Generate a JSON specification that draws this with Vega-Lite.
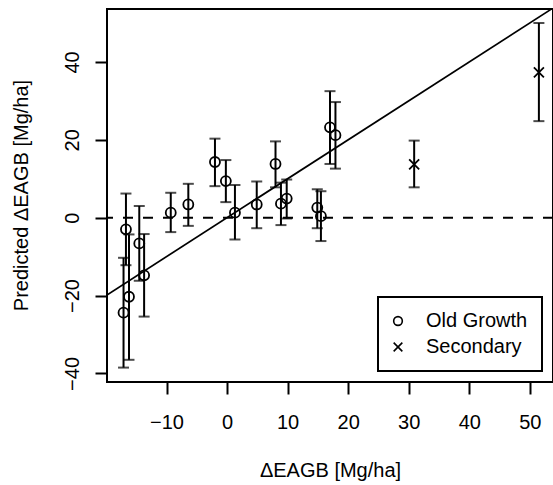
{
  "$schema": "https://vega.github.io/schema/vega-lite/v6.json",
  "autosize": "none",
  "padding": {"left": 107, "top": 9, "right": 0, "bottom": 103},
  "width": 446,
  "height": 373,
  "background": "white",
  "datasets": {
    "pts": [
      {"obs": -16.7, "pred": -3.0, "lo": -12.2, "hi": 6.2, "type": "Old Growth"},
      {"obs": -16.2, "pred": -20.3, "lo": -36.5, "hi": -4.3, "type": "Old Growth"},
      {"obs": -17.1, "pred": -24.4, "lo": -38.5, "hi": -10.3, "type": "Old Growth"},
      {"obs": -14.5, "pred": -6.6, "lo": -16.2, "hi": 3.0, "type": "Old Growth"},
      {"obs": -13.7, "pred": -14.8, "lo": -25.4, "hi": -4.2, "type": "Old Growth"},
      {"obs": -9.3, "pred": 1.3, "lo": -3.7, "hi": 6.4, "type": "Old Growth"},
      {"obs": -6.4, "pred": 3.4, "lo": -2.1, "hi": 8.7, "type": "Old Growth"},
      {"obs": -2.0, "pred": 14.3, "lo": 8.1, "hi": 20.3, "type": "Old Growth"},
      {"obs": -0.2, "pred": 9.4, "lo": 4.0, "hi": 14.8, "type": "Old Growth"},
      {"obs": 1.3, "pred": 1.3, "lo": -5.6, "hi": 8.4, "type": "Old Growth"},
      {"obs": 4.9, "pred": 3.4, "lo": -2.7, "hi": 9.3, "type": "Old Growth"},
      {"obs": 8.0, "pred": 13.8, "lo": 7.8, "hi": 19.6, "type": "Old Growth"},
      {"obs": 8.9, "pred": 3.6, "lo": -1.9, "hi": 9.0, "type": "Old Growth"},
      {"obs": 9.85, "pred": 4.9, "lo": -0.2, "hi": 9.8, "type": "Old Growth"},
      {"obs": 14.9, "pred": 2.6, "lo": -2.7, "hi": 7.3, "type": "Old Growth"},
      {"obs": 15.5, "pred": 0.4, "lo": -6.0, "hi": 6.8, "type": "Old Growth"},
      {"obs": 17.0, "pred": 23.2, "lo": 13.8, "hi": 32.5, "type": "Old Growth"},
      {"obs": 17.9, "pred": 21.2, "lo": 12.6, "hi": 29.7, "type": "Old Growth"},
      {"obs": 30.9, "pred": 13.7, "lo": 7.8, "hi": 19.8, "type": "Secondary"},
      {"obs": 51.5, "pred": 37.3, "lo": 24.8, "hi": 50.0, "type": "Secondary"}
    ],
    "oneone": [
      {"obs": -30, "pred": -30},
      {"obs": 70, "pred": 70}
    ],
    "zero": [
      {"pred": 0}
    ]
  },
  "config": {
    "font": "Liberation Sans",
    "view": {"stroke": "black", "strokeWidth": 2},
    "axis": {
      "domain": false,
      "grid": false,
      "tickColor": "black",
      "tickWidth": 2,
      "tickSize": 12,
      "labelFont": "Liberation Sans",
      "labelFontSize": 20,
      "labelColor": "black",
      "titleFont": "Liberation Sans",
      "titleFontSize": 20,
      "titleFontWeight": "normal",
      "titleColor": "black"
    },
    "legend": {
      "strokeWidth": 2
    }
  },
  "layer": [
    {
      "data": {"name": "zero"},
      "mark": {"type": "rule", "stroke": "black", "strokeWidth": 2, "strokeDash": [10, 10]},
      "encoding": {"y": {"field": "pred", "type": "quantitative", "scale": {"domain": [-42.2, 53.6], "nice": false, "zero": false}}}
    },
    {
      "data": {"name": "oneone"},
      "mark": {"type": "line", "stroke": "black", "strokeWidth": 1.7, "clip": true},
      "encoding": {
        "x": {"field": "obs", "type": "quantitative"},
        "y": {"field": "pred", "type": "quantitative"}
      }
    },
    {
      "data": {"name": "pts"},
      "mark": {"type": "rule", "stroke": "black", "strokeWidth": 2},
      "encoding": {
        "x": {"field": "obs", "type": "quantitative"},
        "y": {"field": "lo", "type": "quantitative"},
        "y2": {"field": "hi"}
      }
    },
    {
      "data": {"name": "pts"},
      "mark": {"type": "tick", "color": "black", "thickness": 2, "size": 11, "orient": "horizontal"},
      "encoding": {
        "x": {"field": "obs", "type": "quantitative"},
        "y": {"field": "lo", "type": "quantitative"}
      }
    },
    {
      "data": {"name": "pts"},
      "mark": {"type": "tick", "color": "black", "thickness": 2, "size": 11, "orient": "horizontal"},
      "encoding": {
        "x": {"field": "obs", "type": "quantitative"},
        "y": {"field": "hi", "type": "quantitative"}
      }
    },
    {
      "data": {"name": "pts"},
      "mark": {"type": "point", "filled": false, "stroke": "black", "strokeWidth": 1.8, "size": 100, "opacity": 1},
      "encoding": {
        "x": {
          "field": "obs", "type": "quantitative",
          "scale": {"domain": [-19.83, 53.83], "nice": false, "zero": false},
          "axis": {"values": [-10, 0, 10, 20, 30, 40, 50], "title": "ΔEAGB [Mg/ha]", "labelPadding": 18, "titleBaseline": "alphabetic", "titleY": 94, "titleX": 223, "titleAnchor": "middle"}
        },
        "y": {
          "field": "pred", "type": "quantitative",
          "axis": {"values": [-40, -20, 0, 20, 40], "title": "Predicted ΔEAGB [Mg/ha]", "labelAngle": 270, "labelAlign": "center", "labelBaseline": "alphabetic", "labelPadding": 17, "titleBaseline": "alphabetic", "titleX": -80, "titleY": 186, "titleAngle": 270}
        },
        "shape": {
          "field": "type", "type": "nominal",
          "scale": {"domain": ["Old Growth", "Secondary"], "range": ["circle", "M-1,-1L1,1M1,-1L-1,1"]},
          "legend": {
            "title": null, "orient": "none", "legendX": 271, "legendY": 288,
            "strokeColor": "black", "padding": 14, "labelFontSize": 20, "labelFont": "Liberation Sans", "labelColor": "black",
            "symbolSize": 75, "symbolStrokeColor": "black", "symbolStrokeWidth": 1.6, "symbolFillColor": "transparent",
            "symbolOffset": -4, "labelOffset": 18, "rowPadding": 6
          }
        }
      }
    }
  ]
}
